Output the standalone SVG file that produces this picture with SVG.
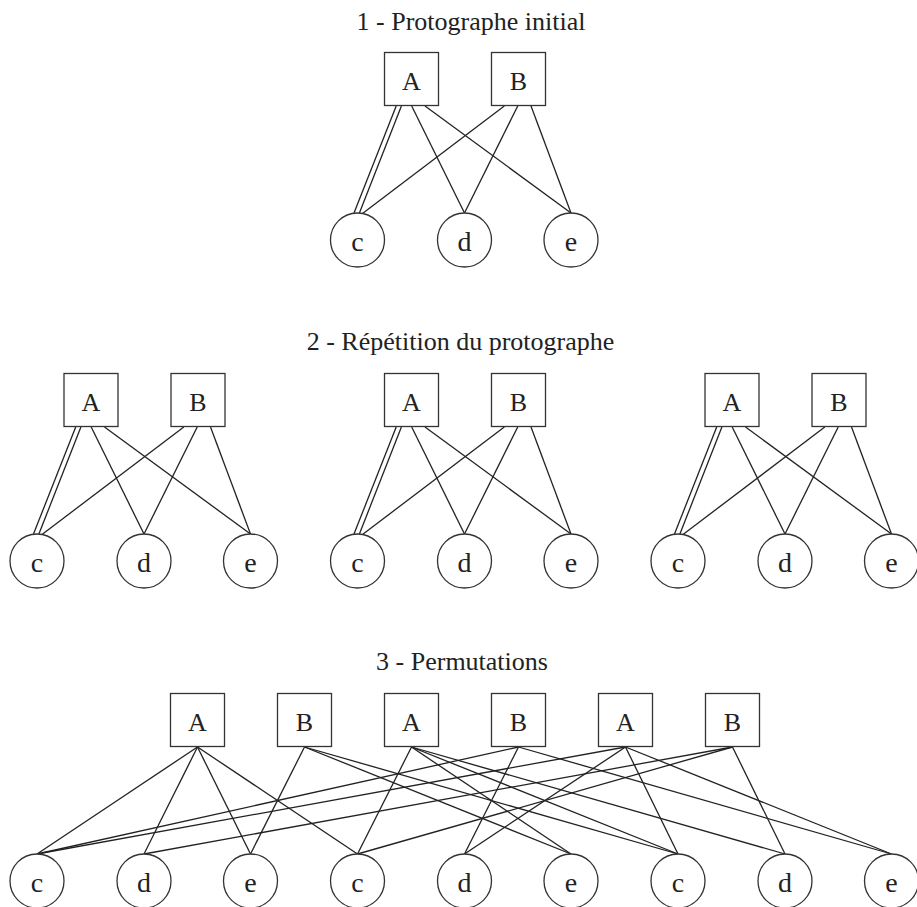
<svg xmlns="http://www.w3.org/2000/svg" width="917" height="907" viewBox="0 0 917 907">
<style>
.bg{fill:#fff}
.box{fill:#fff;stroke:#333;stroke-width:1.3}
.var{fill:#fff;stroke:#333;stroke-width:1.3}
.e{stroke:#222;stroke-width:1.3;fill:none}
.t{font-family:"Liberation Serif","Times New Roman",serif;font-size:26px;fill:#222;text-anchor:middle}
.lb{font-family:"Liberation Serif","Times New Roman",serif;font-size:26px;fill:#222;text-anchor:middle}
.lc{font-family:"Liberation Serif","Times New Roman",serif;font-size:28px;fill:#222;text-anchor:middle}
</style>
<defs>
<g id="proto-edges">
<line class="e" x1="396.2" y1="106" x2="354" y2="213"/>
<line class="e" x1="401.4" y1="106" x2="359.4" y2="213"/>
<line class="e" x1="411.7" y1="106" x2="464.5" y2="213"/>
<line class="e" x1="425" y1="106" x2="571" y2="213"/>
<line class="e" x1="504.3" y1="106" x2="362.5" y2="213.5"/>
<line class="e" x1="517.7" y1="106" x2="464.5" y2="213"/>
<line class="e" x1="531" y1="106" x2="571" y2="213"/>
</g>
</defs>
<rect class="bg" x="0" y="0" width="917" height="907"/>

<g id="titles">
<text class="t" x="471" y="29.5">1 - Protographe initial</text>
<text class="t" x="460.5" y="349.5">2 - Répétition du protographe</text>
<text class="t" x="462" y="670">3 - Permutations</text>
</g>

<g id="connectors">
<use href="#proto-edges"/>
<use href="#proto-edges" transform="translate(-320.5,321)"/>
<use href="#proto-edges" transform="translate(0,321)"/>
<use href="#proto-edges" transform="translate(320.5,321)"/>
<!-- section 3 -->
<line class="e" x1="197.5" y1="747" x2="37" y2="854"/>
<line class="e" x1="197.5" y1="747" x2="144" y2="854"/>
<line class="e" x1="197.5" y1="747" x2="250.5" y2="854"/>
<line class="e" x1="197.5" y1="747" x2="357.5" y2="854"/>
<line class="e" x1="304.5" y1="747" x2="250.5" y2="854"/>
<line class="e" x1="304.5" y1="747" x2="571" y2="854"/>
<line class="e" x1="304.5" y1="747" x2="678" y2="854"/>
<line class="e" x1="411.5" y1="747" x2="357.5" y2="854"/>
<line class="e" x1="411.5" y1="747" x2="571" y2="854"/>
<line class="e" x1="411.5" y1="747" x2="678" y2="854"/>
<line class="e" x1="411.5" y1="747" x2="785" y2="854"/>
<line class="e" x1="518.5" y1="747" x2="37" y2="854"/>
<line class="e" x1="518.5" y1="747" x2="464.5" y2="854"/>
<line class="e" x1="518.5" y1="747" x2="891.5" y2="854"/>
<line class="e" x1="625.5" y1="747" x2="37" y2="854"/>
<line class="e" x1="625.5" y1="747" x2="464.5" y2="854"/>
<line class="e" x1="625.5" y1="747" x2="678" y2="854"/>
<line class="e" x1="625.5" y1="747" x2="891.5" y2="854"/>
<line class="e" x1="732.5" y1="747" x2="144" y2="854"/>
<line class="e" x1="732.5" y1="747" x2="357.5" y2="854"/>
<line class="e" x1="732.5" y1="747" x2="785" y2="854"/>
</g>

<!-- section 1 -->
<g id="s1-A"><rect class="box" x="384.5" y="52.5" width="54" height="53"/><text class="lb" x="411.5" y="89.5">A</text></g>
<g id="s1-B"><rect class="box" x="491.5" y="52.5" width="54" height="53"/><text class="lb" x="518.5" y="89.5">B</text></g>
<g id="s1-c"><circle class="var" cx="357.5" cy="240" r="27"/><text class="lc" x="357.5" y="250.5">c</text></g>
<g id="s1-d"><circle class="var" cx="464.5" cy="240" r="27"/><text class="lc" x="464.5" y="250.5">d</text></g>
<g id="s1-e"><circle class="var" cx="571" cy="240" r="27"/><text class="lc" x="571" y="250.5">e</text></g>

<!-- section 2 -->
<g id="s2-A1"><rect class="box" x="64" y="373.5" width="54" height="53"/><text class="lb" x="91" y="410.5">A</text></g>
<g id="s2-B1"><rect class="box" x="171" y="373.5" width="54" height="53"/><text class="lb" x="198" y="410.5">B</text></g>
<g id="s2-c1"><circle class="var" cx="37" cy="561" r="27"/><text class="lc" x="37" y="571.5">c</text></g>
<g id="s2-d1"><circle class="var" cx="144" cy="561" r="27"/><text class="lc" x="144" y="571.5">d</text></g>
<g id="s2-e1"><circle class="var" cx="250.5" cy="561" r="27"/><text class="lc" x="250.5" y="571.5">e</text></g>

<g id="s2-A2"><rect class="box" x="384.5" y="373.5" width="54" height="53"/><text class="lb" x="411.5" y="410.5">A</text></g>
<g id="s2-B2"><rect class="box" x="491.5" y="373.5" width="54" height="53"/><text class="lb" x="518.5" y="410.5">B</text></g>
<g id="s2-c2"><circle class="var" cx="357.5" cy="561" r="27"/><text class="lc" x="357.5" y="571.5">c</text></g>
<g id="s2-d2"><circle class="var" cx="464.5" cy="561" r="27"/><text class="lc" x="464.5" y="571.5">d</text></g>
<g id="s2-e2"><circle class="var" cx="571" cy="561" r="27"/><text class="lc" x="571" y="571.5">e</text></g>

<g id="s2-A3"><rect class="box" x="705" y="373.5" width="54" height="53"/><text class="lb" x="732" y="410.5">A</text></g>
<g id="s2-B3"><rect class="box" x="812" y="373.5" width="54" height="53"/><text class="lb" x="839" y="410.5">B</text></g>
<g id="s2-c3"><circle class="var" cx="678" cy="561" r="27"/><text class="lc" x="678" y="571.5">c</text></g>
<g id="s2-d3"><circle class="var" cx="785" cy="561" r="27"/><text class="lc" x="785" y="571.5">d</text></g>
<g id="s2-e3"><circle class="var" cx="891.5" cy="561" r="27"/><text class="lc" x="891.5" y="571.5">e</text></g>

<!-- section 3 -->
<g id="s3-A1"><rect class="box" x="170.5" y="693.5" width="54" height="53"/><text class="lb" x="197.5" y="730.5">A</text></g>
<g id="s3-B1"><rect class="box" x="277.5" y="693.5" width="54" height="53"/><text class="lb" x="304.5" y="730.5">B</text></g>
<g id="s3-A2"><rect class="box" x="384.5" y="693.5" width="54" height="53"/><text class="lb" x="411.5" y="730.5">A</text></g>
<g id="s3-B2"><rect class="box" x="491.5" y="693.5" width="54" height="53"/><text class="lb" x="518.5" y="730.5">B</text></g>
<g id="s3-A3"><rect class="box" x="598.5" y="693.5" width="54" height="53"/><text class="lb" x="625.5" y="730.5">A</text></g>
<g id="s3-B3"><rect class="box" x="705.5" y="693.5" width="54" height="53"/><text class="lb" x="732.5" y="730.5">B</text></g>
<g id="s3-c1"><circle class="var" cx="37" cy="881" r="27"/><text class="lc" x="37" y="891.5">c</text></g>
<g id="s3-d1"><circle class="var" cx="144" cy="881" r="27"/><text class="lc" x="144" y="891.5">d</text></g>
<g id="s3-e1"><circle class="var" cx="250.5" cy="881" r="27"/><text class="lc" x="250.5" y="891.5">e</text></g>
<g id="s3-c2"><circle class="var" cx="357.5" cy="881" r="27"/><text class="lc" x="357.5" y="891.5">c</text></g>
<g id="s3-d2"><circle class="var" cx="464.5" cy="881" r="27"/><text class="lc" x="464.5" y="891.5">d</text></g>
<g id="s3-e2"><circle class="var" cx="571" cy="881" r="27"/><text class="lc" x="571" y="891.5">e</text></g>
<g id="s3-c3"><circle class="var" cx="678" cy="881" r="27"/><text class="lc" x="678" y="891.5">c</text></g>
<g id="s3-d3"><circle class="var" cx="785" cy="881" r="27"/><text class="lc" x="785" y="891.5">d</text></g>
<g id="s3-e3"><circle class="var" cx="891.5" cy="881" r="27"/><text class="lc" x="891.5" y="891.5">e</text></g>
</svg>
